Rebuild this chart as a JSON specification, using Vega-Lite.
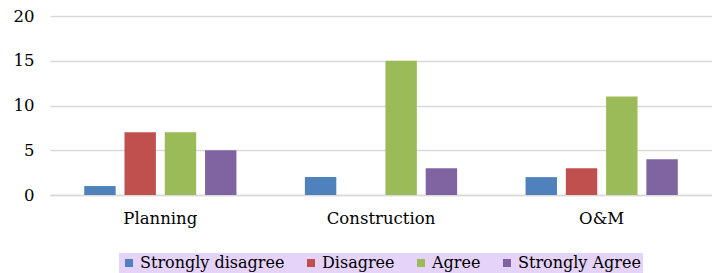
{
  "$schema": "https://vega.github.io/schema/vega-lite/v6.json",
  "width": 712,
  "height": 273,
  "autosize": {"type": "fit", "contains": "padding"},
  "padding": {"left": 13, "top": 8, "right": 0, "bottom": 0},
  "background": "white",
  "data": {
    "values": [
      {"phase": "Planning", "response": "Strongly disagree", "count": 1},
      {"phase": "Planning", "response": "Disagree", "count": 7},
      {"phase": "Planning", "response": "Agree", "count": 7},
      {"phase": "Planning", "response": "Strongly Agree", "count": 5},
      {"phase": "Construction", "response": "Strongly disagree", "count": 2},
      {"phase": "Construction", "response": "Disagree", "count": 0},
      {"phase": "Construction", "response": "Agree", "count": 15},
      {"phase": "Construction", "response": "Strongly Agree", "count": 3},
      {"phase": "O&M", "response": "Strongly disagree", "count": 2},
      {"phase": "O&M", "response": "Disagree", "count": 3},
      {"phase": "O&M", "response": "Agree", "count": 11},
      {"phase": "O&M", "response": "Strongly Agree", "count": 4}
    ]
  },
  "config": {
    "view": {"stroke": null},
    "font": "DejaVu Serif",
    "legend": {"layout": {"bottom": {"anchor": "middle"}}}
  },
  "mark": {"type": "bar"},
  "encoding": {
    "x": {
      "field": "phase",
      "type": "nominal",
      "sort": ["Planning", "Construction", "O&M"],
      "scale": {"paddingInner": 0.27, "paddingOuter": 0.135},
      "axis": {
        "title": null,
        "labelAngle": 0,
        "labelFont": "DejaVu Serif",
        "labelFontSize": 16.5,
        "labelColor": "#000000",
        "labelPadding": 15,
        "ticks": false,
        "domainColor": "#d9d9d9",
        "domainWidth": 1.5
      }
    },
    "xOffset": {
      "field": "response",
      "type": "nominal",
      "sort": ["Strongly disagree", "Disagree", "Agree", "Strongly Agree"],
      "scale": {"paddingInner": 0.22, "paddingOuter": 0.11}
    },
    "y": {
      "field": "count",
      "type": "quantitative",
      "scale": {"domain": [0, 20]},
      "axis": {
        "title": null,
        "values": [0, 5, 10, 15, 20],
        "labelFont": "DejaVu Serif",
        "labelFontSize": 16.5,
        "labelColor": "#000000",
        "labelPadding": 16,
        "ticks": false,
        "domain": false,
        "gridColor": "#d9d9d9",
        "gridWidth": 1.5
      }
    },
    "color": {
      "field": "response",
      "type": "nominal",
      "sort": ["Strongly disagree", "Disagree", "Agree", "Strongly Agree"],
      "scale": {
        "domain": ["Strongly disagree", "Disagree", "Agree", "Strongly Agree"],
        "range": ["#4f81bd", "#c0504d", "#9bbb59", "#8064a2"]
      },
      "legend": {
        "title": null,
        "orient": "bottom",
        "direction": "horizontal",
        "symbolType": "square",
        "symbolSize": 64,
        "symbolStrokeWidth": 0,
        "labelFont": "DejaVu Serif",
        "labelFontSize": 16,
        "labelColor": "#000000",
        "labelOffset": 3,
        "columnPadding": 18,
        "offset": 26,
        "padding": 2,
        "fillColor": "#e6d3fa"
      }
    }
  }
}
